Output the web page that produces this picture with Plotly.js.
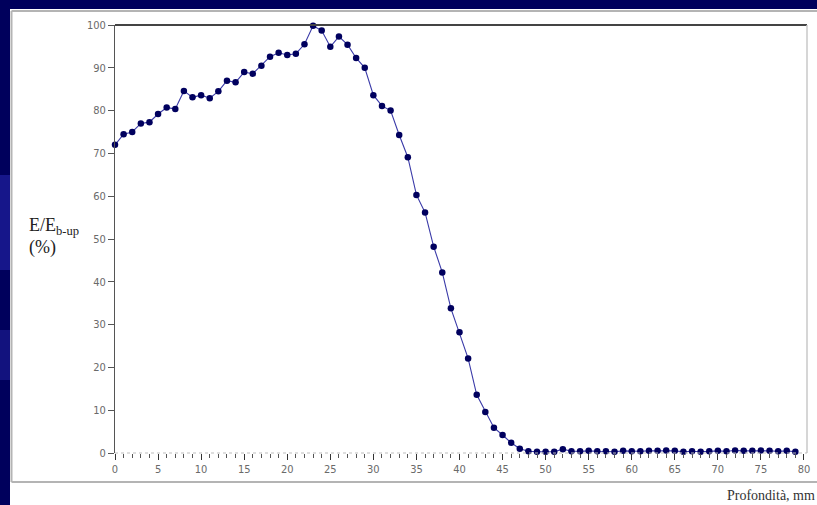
<!DOCTYPE html>
<html>
<head>
<meta charset="utf-8">
<script src="https://cdn.plot.ly/plotly-3.0.1.min.js"></script>
<style>
html,body{margin:0;padding:0;background:#ffffff;overflow:hidden;width:817px;height:505px;}
#chart{width:817px;height:505px;overflow:hidden;}
</style>
</head>
<body>
<div id="chart"></div>
<script>
// Depth (mm)
var depth = [];
for (var i = 0; i <= 79; i++) depth.push(i);
// E/E_b-up (%)
var ratio = [
  72.0, 74.5, 75.0, 77.0, 77.3, 79.2, 80.7, 80.4, 84.6, 83.1,
  83.6, 82.9, 84.5, 87.0, 86.6, 89.0, 88.6, 90.5, 92.6, 93.5,
  93.0, 93.3, 95.5, 99.8, 98.7, 94.9, 97.3, 95.4, 92.3, 90.0,
  83.6, 81.1, 80.0, 74.3, 69.1, 60.3, 56.2, 48.2, 42.2, 33.8,
  28.2, 22.1, 13.6, 9.6, 5.9, 4.2, 2.4, 1.0, 0.4, 0.3,
  0.3, 0.3, 0.9, 0.4, 0.4, 0.5, 0.4, 0.4, 0.3, 0.5,
  0.4, 0.4, 0.5, 0.5, 0.6, 0.5, 0.3, 0.4, 0.3, 0.4,
  0.5, 0.4, 0.6, 0.5, 0.5, 0.6, 0.5, 0.4, 0.5, 0.3
];
var xTickVals = [0,5,10,15,20,25,30,35,40,45,50,55,60,65,70,75,80];
var yTickVals = [0,10,20,30,40,50,60,70,80,90,100];
var yTitleLine1 = "E/E<sub>b-up</sub>";
var yTitleLine2 = "(%)";
var xTitle = "Profondità, mm";

var W = 817, H = 505, L = 115, R = 10, T = 25, B = 52;
var pw = W - L - R, ph = H - T - B;
function px(x){ return (x - L) / pw; }
function py(y){ return (H - B - y) / ph; }

var tickFont = {family: "Liberation Sans Narrow, DejaVu Sans Condensed, Arial Narrow, sans-serif", size: 11, color: "#6a6a6a"};

var trace = {
  x: depth, y: ratio, type: "scatter", mode: "lines+markers",
  line: {color: "#3a3aa8", width: 1.1},
  marker: {color: "#00005e", size: 6.5},
  cliponaxis: false, hoverinfo: "skip"
};

var navy = "#00005c";
var layout = {
  width: W, height: H,
  margin: {l: L, r: R, t: T, b: B, pad: 0},
  paper_bgcolor: "#ffffff",
  plot_bgcolor: "#ffffff",
  showlegend: false,
  xaxis: {
    range: [0, 80.35], showgrid: false, zeroline: false, showline: false,
    tickvals: xTickVals, ticks: "outside", ticklen: 6, tickwidth: 1, tickcolor: "#333",
    tickfont: tickFont,
    minor: {dtick: 1, tick0: 0, ticks: "outside", ticklen: 4, tickcolor: "#555", tickwidth: 1, showgrid: false}
  },
  yaxis: {
    range: [0, 100], showgrid: false, zeroline: false,
    showline: true, linecolor: "#555", linewidth: 1,
    tickvals: yTickVals, ticks: "outside", ticklen: 6, tickwidth: 1, tickcolor: "#555",
    tickfont: tickFont
  },
  shapes: [
    {type: "rect", xref: "paper", yref: "paper", layer: "below",
     x0: px(0), x1: px(817), y0: py(9), y1: py(0),
     fillcolor: navy, line: {width: 0}},
    {type: "rect", xref: "paper", yref: "paper", layer: "below",
     x0: px(0), x1: px(10), y0: py(505), y1: py(0),
     fillcolor: navy, line: {width: 0}},
    {type: "rect", xref: "paper", yref: "paper", layer: "below",
     x0: px(0), x1: px(10), y0: py(270), y1: py(175),
     fillcolor: "#16168a", line: {width: 0}},
    {type: "rect", xref: "paper", yref: "paper", layer: "below",
     x0: px(0), x1: px(10), y0: py(380), y1: py(330),
     fillcolor: "#12127e", line: {width: 0}},
    {type: "line", xref: "paper", yref: "paper", x0: px(11.5), x1: px(817), y0: py(11), y1: py(11),
     line: {color: "#b4b4b4", width: 2}},
    {type: "line", xref: "paper", yref: "paper", x0: px(11.5), x1: px(817), y0: py(482), y1: py(482),
     line: {color: "#b4b4b4", width: 2}},
    {type: "line", xref: "paper", yref: "paper", x0: px(11.5), x1: px(11.5), y0: py(482), y1: py(11),
     line: {color: "#b4b4b4", width: 2}},
    {type: "line", xref: "paper", yref: "paper", x0: 0, x1: 1, y0: 1, y1: 1,
     line: {color: "#444", width: 2}},
    {type: "line", xref: "paper", yref: "paper", x0: 1, x1: 1, y0: 0, y1: 1,
     line: {color: "#c8c8c8", width: 1.5}},
    {type: "line", xref: "paper", yref: "paper", x0: 0, x1: 1, y0: 0, y1: 0,
     line: {color: "#bdbdbd", width: 1, dash: "dot"}}
  ],
  annotations: [
    {text: yTitleLine1, xref: "paper", yref: "paper", x: px(27), y: py(226),
     xanchor: "left", yanchor: "middle", showarrow: false, align: "left",
     font: {family: "Liberation Serif, Times New Roman, serif", size: 18, color: "#222"}},
    {text: yTitleLine2, xref: "paper", yref: "paper", x: px(27), y: py(248),
     xanchor: "left", yanchor: "middle", showarrow: false, align: "left",
     font: {family: "Liberation Serif, Times New Roman, serif", size: 18, color: "#222"}},
    {text: xTitle, xref: "paper", yref: "paper", x: px(725), y: py(495),
     xanchor: "left", yanchor: "middle", showarrow: false, align: "left",
     font: {family: "Liberation Serif, Times New Roman, serif", size: 14, color: "#333"}}
  ]
};

Plotly.newPlot("chart", [trace], layout, {staticPlot: true, displayModeBar: false});
</script>
</body>
</html>
